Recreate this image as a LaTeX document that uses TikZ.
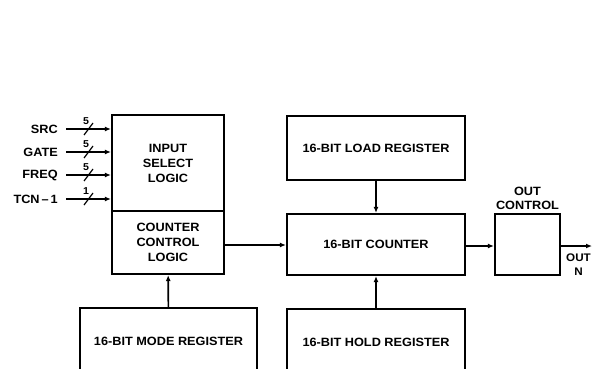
\documentclass[tikz,border=0pt]{standalone}
\usepackage{fontspec}
\setmainfont{Liberation Sans}[FakeStretch=1.06]
\usetikzlibrary{positioning}
\usetikzlibrary{arrows.meta}
\tikzset{
    blk/.style = {rectangle, line width=2.2pt, draw=black, align=center, inner sep=0pt, font=\bfseries\fontsize{12}{15}\selectfont},
    lbl/.style = {align=center, inner sep=1pt, font=\bfseries\fontsize{12}{14}\selectfont},
    edgen/.style = {-{Latex[length=6pt,width=5pt]}, line width=1.6pt},
    edgei/.style = {-{Latex[length=6pt,width=5pt]}, line width=1.4pt},
}
\begin{document}
\begin{tikzpicture}[x=1pt,y=-1pt]
\useasboundingbox (0,0) rectangle (595,369);
%
\node[blk, minimum width=112, minimum height=96] at (168,163) (insel) {INPUT\\SELECT\\LOGIC};
\node[blk, minimum width=112, minimum height=63] at (168,242.5) (ctrl) {COUNTER\\CONTROL\\LOGIC};
\node[blk, minimum width=177, minimum height=66] at (168.5,341) (mode) {16-BIT MODE REGISTER};
\node[blk, minimum width=178, minimum height=64] at (376,148) (load) {16-BIT LOAD REGISTER};
\node[blk, minimum width=178, minimum height=61] at (376,244.5) (cnt) {16-BIT COUNTER};
\node[blk, minimum width=178, minimum height=66] at (376,342) (hold) {16-BIT HOLD REGISTER};
\node[blk, minimum width=65, minimum height=61] at (527.5,244.5) (outc) {};
\node[lbl, above=2pt of outc] (outl) {OUT\\CONTROL};
\coordinate (outp) at (592,246);
\node[lbl, anchor=north, font=\bfseries\fontsize{11}{14}\selectfont] at (578.5,253) (outn) {OUT\\N};
%
\foreach \name/\txt/\y/\n in {src/SRC/129/5, gate/GATE/152/5, freq/FREQ/175/5, tcn/TCN\,--\,1/199/1}{
  \node[lbl, anchor=east] at (59,\y) (\name) {\txt};
  \coordinate (\name-in) at (insel.west |- 0,\y);
  \draw[edgei] (\name.east) ++(7,0) -- (\name-in);
  \draw[line width=1.2pt] (84,\y+6) -- (93,\y-6);
  \node[lbl, font=\bfseries\fontsize{10}{11}\selectfont] at (86,\y-8) {\n};
}
%
\draw[edgen] (ctrl.east |- 0,245) -- (cnt.west |- 0,245);
\draw[edgen] (cnt.east |- 0,246) -- (outc.west |- 0,246);
\draw[edgen] (outc.east |- 0,246) -- (outp);
\draw[edgen] (load) -- (cnt);
\draw[edgen] (hold) -- (cnt);
\draw[edgen] (mode) -- (ctrl);
\end{tikzpicture}
\end{document}
